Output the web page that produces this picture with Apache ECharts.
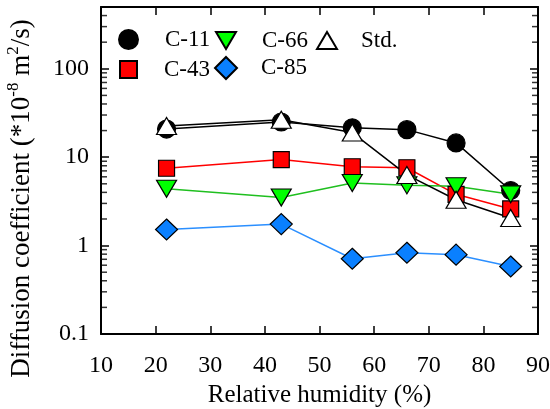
<!DOCTYPE html>
<html>
<head>
<meta charset="utf-8">
<script src="https://cdn.jsdelivr.net/npm/echarts@6/dist/echarts.min.js"></script>
<style>
  html, body { margin: 0; padding: 0; background: #fff; }
  #chart { width: 550px; height: 409px; }
</style>
</head>
<body>
<div id="chart"></div>
<script>
// relative humidity (%) for every sample
var humidity = [22, 43, 56, 66, 75, 85];

// diffusion coefficient (*10^-8 m^2/s)
var c11 = [20.8, 25, 21.5, 20.5, 14.5, 4.2];
var c43 = [7.5, 9.4, 7.8, 7.6, 3.8, 2.6];
var c66 = [4.4, 3.5, 5.1, 4.8, 4.7, 3.8];
var c85 = [1.52, 1.75, 0.71, 0.83, 0.79, 0.58];
var std = [22.5, 26.5, 19, 6.3, 3.3, 2.05];

// minor ticks of the log axis
var yMinorTicks = [0.2, 0.3, 0.4, 0.5, 0.6, 0.7, 0.8, 0.9,
                   2, 3, 4, 5, 6, 7, 8, 9,
                   20, 30, 40, 50, 60, 70, 80, 90,
                   200, 300, 400];

var serifFont = 'Liberation Serif';
var triDown = 'path://M0,0L20,0L10,17Z';

function pairs(vals) {
    var out = [];
    for (var i = 0; i < humidity.length; i++) out.push([humidity[i], vals[i]]);
    return out;
}

function legendItem(name, icon, w, h, left, top, pad) {
    return {
        data: [{ name: name, icon: icon }],
        left: left, top: top, padding: 0,
        itemWidth: w, itemHeight: h,
        selectedMode: false,
        textStyle: { fontFamily: serifFont, fontSize: 23, color: '#000', padding: [0, 0, 2, pad] }
    };
}

function mirrorX(pos, labels) {
    return {
        type: 'value', min: 10, max: 90, interval: 10, position: pos,
        axisLine: { show: true, onZero: false, lineStyle: { color: '#000', width: 2 } },
        axisTick: { show: true, inside: true, length: 8, lineStyle: { color: '#000', width: 1.5 } },
        axisLabel: { show: labels, margin: 20, fontFamily: serifFont, fontSize: 24, color: '#000' },
        splitLine: { show: false }
    };
}

function mirrorY(pos, labels) {
    return {
        type: 'log', logBase: 10, min: 0.1, max: 500, position: pos,
        axisLine: { show: true, onZero: false, lineStyle: { color: '#000', width: 2 } },
        axisTick: { show: true, inside: true, length: 8, lineStyle: { color: '#000', width: 1.5 } },
        axisLabel: {
            show: labels, margin: 12, fontFamily: serifFont, fontSize: 24, color: '#000',
            showMaxLabel: false,
            formatter: function (v) { return String(Number(v.toPrecision(3))); }
        },
        splitLine: { show: false }
    };
}

function minorTicks(name, x, off) {
    return {
        name: name, type: 'scatter',
        data: yMinorTicks.map(function (v) { return [x, v]; }),
        symbol: 'rect', symbolSize: [6, 1.5], symbolOffset: [off, 0],
        itemStyle: { color: '#000' }
    };
}

var xBottom = mirrorX('bottom', true);
xBottom.name = 'Relative humidity (%)';
xBottom.nameLocation = 'middle';
xBottom.nameGap = 46;
xBottom.nameTextStyle = { fontFamily: serifFont, fontSize: 25, color: '#000' };

var yLeft = mirrorY('left', true);
yLeft.name = '{a|Diffusion coefficient (*10}{s|-8}{a| m}{s|2}{a|/s)}';
yLeft.nameLocation = 'middle';
yLeft.nameRotate = 90;
yLeft.nameGap = 62;
yLeft.nameTextStyle = {
    padding: [0, 56, 0, 0],
    rich: {
        a: { fontFamily: serifFont, fontSize: 27, color: '#000', lineHeight: 34 },
        s: { fontFamily: serifFont, fontSize: 17, color: '#000', lineHeight: 17, verticalAlign: 'top' }
    }
};

var myChart = echarts.init(document.getElementById('chart'));
myChart.setOption({
    animation: false,
    grid: { left: 101, right: 12, top: 7, bottom: 75, containLabel: false, outerBoundsMode: 'none' },
    legend: [
        legendItem('C-11', 'circle', 19, 19, 118, 28, 22),
        legendItem('C-66', triDown, 20, 17, 215, 29, 21),
        legendItem('Std.', 'triangle', 20, 17, 316, 29, 19),
        legendItem('C-43', 'rect', 17, 17, 119, 58, 22),
        legendItem('C-85', 'diamond', 22, 22, 214, 56, 19)
    ],
    xAxis: [xBottom, mirrorX('top', false)],
    yAxis: [yLeft, mirrorY('right', false)],
    series: [
        minorTicks('minor-left', 10, 3),
        minorTicks('minor-right', 90, -3),
        {
            name: 'C-11', type: 'line', data: pairs(c11),
            symbol: 'circle', symbolSize: 18,
            itemStyle: { color: '#000', borderColor: '#000', borderWidth: 1.2 },
            lineStyle: { color: '#000', width: 1.5 }
        },
        {
            name: 'C-43', type: 'line', data: pairs(c43),
            symbol: 'rect', symbolSize: 16,
            itemStyle: { color: '#ff0000', borderColor: '#000', borderWidth: 1.2 },
            lineStyle: { color: '#ff0000', width: 1.5 }
        },
        {
            name: 'C-66', type: 'line', data: pairs(c66),
            symbol: triDown, symbolSize: [20, 17],
            itemStyle: { color: '#00ff00', borderColor: '#000', borderWidth: 1.2 },
            lineStyle: { color: '#1fbf1f', width: 1.5 }
        },
        {
            name: 'C-85', type: 'line', data: pairs(c85),
            symbol: 'diamond', symbolSize: [22, 21],
            itemStyle: { color: '#0a80ff', borderColor: '#000', borderWidth: 1.2 },
            lineStyle: { color: '#2b8fff', width: 1.5 }
        },
        {
            name: 'Std.', type: 'line', data: pairs(std),
            symbol: 'triangle', symbolSize: [20, 17],
            itemStyle: { color: '#fff', borderColor: '#000', borderWidth: 1.2 },
            lineStyle: { color: '#000', width: 1.5 }
        }
    ]
});
</script>
</body>
</html>
